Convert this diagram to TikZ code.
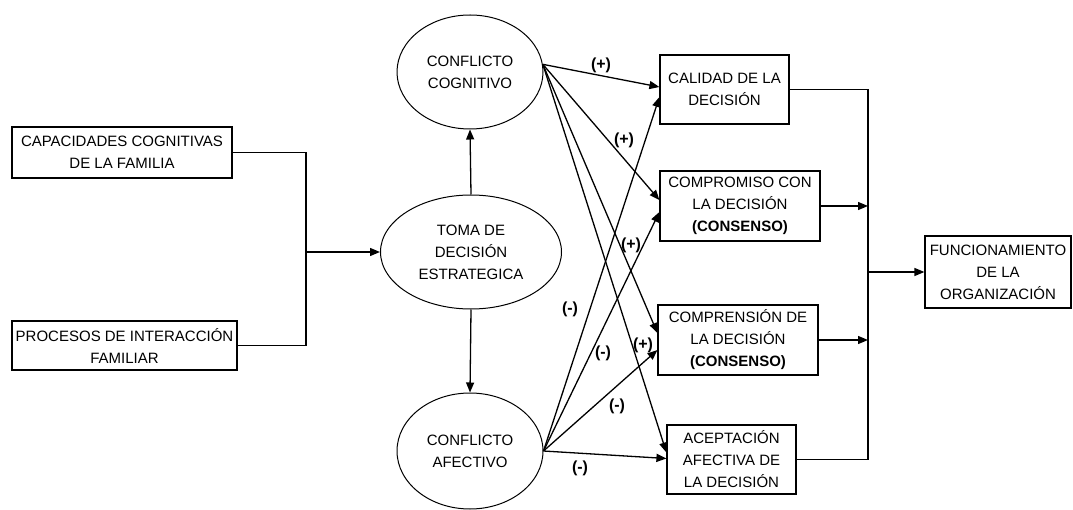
\documentclass[tikz,border=0pt]{standalone}
\usepackage{fontspec}
\setmainfont{Liberation Sans}
\usetikzlibrary{arrows.meta,shapes.geometric,calc}

\begin{document}
\begin{tikzpicture}[x=1pt,y=-1pt,
  txt/.style={font=\fontsize{15}{22}\selectfont, align=center, inner sep=0pt},
  box/.style={txt, draw, line width=1.2pt, rectangle},
  oval/.style={txt, draw, line width=1pt, ellipse},
  link/.style={line width=1.3pt},
  arr/.style={link, -{Triangle[length=10pt,width=8pt]}},
  sign/.style={font=\fontsize{16}{16}\selectfont\bfseries, inner sep=0pt}]

\useasboundingbox (0,0) rectangle (1073,510);

% antecedents
\node[box, minimum width=220pt, minimum height=51pt] (cap) at (122,152.5)
  {CAPACIDADES COGNITIVAS\\DE LA FAMILIA};
\node[box, minimum width=225pt, minimum height=49pt] (proc) at (124.5,345.5)
  {PROCESOS DE INTERACCIÓN\\FAMILIAR};

% decision process and conflicts
\node[oval, minimum width=181pt, minimum height=114pt] (toma) at (471,252)
  {TOMA DE\\DECISIÓN\\ESTRATEGICA};
\node[oval, minimum width=146pt, minimum height=114pt] (cog) at (470,72)
  {CONFLICTO\\COGNITIVO};
\node[oval, minimum width=146pt, minimum height=116pt] (afe) at (470,451)
  {CONFLICTO\\AFECTIVO};

% outcomes of the decision
\node[box, minimum width=129pt, minimum height=69pt] (calidad) at (724.5,89.5)
  {CALIDAD DE LA\\DECISIÓN};
\node[box, minimum width=160pt, minimum height=70pt] (compromiso) at (740,206)
  {COMPROMISO CON\\LA DECISIÓN\\\textbf{(CONSENSO)}};
\node[box, minimum width=160pt, minimum height=70pt] (comprension) at (738,340)
  {COMPRENSIÓN DE\\LA DECISIÓN\\\textbf{(CONSENSO)}};
\node[box, minimum width=129pt, minimum height=69pt] (aceptacion) at (731.5,459.5)
  {ACEPTACIÓN\\AFECTIVA DE\\LA DECISIÓN};
\node[box, minimum width=146pt, minimum height=72pt] (func) at (998,272)
  {FUNCIONAMIENTO\\DE LA\\ORGANIZACIÓN};

% junction points of the bracket connectors
\coordinate (jl) at (306,252);
\coordinate (jr) at (868,272);
\coordinate (cs) at (cog.6);
\coordinate (as) at (afe.east);

% left bracket into the decision
\draw[link] (cap.east) -| (jl) |- (proc.east);
\draw[arr] (jl) -- (toma.west);
\draw[arr] (toma.north) -- (cog.south);
\draw[arr] (toma.south) -- (afe.north);

% effects of cognitive conflict
\draw[arr] (cs) -- ($(calidad.west)+(0,-2.5)$);
\draw[arr] (cs) -- ($(compromiso.west)+(0,-6)$);
\draw[arr] (cs) -- ($(comprension.west)+(0,-7)$);
\draw[arr] (cs) -- ($(aceptacion.west)+(0,-7)$);

% effects of affective conflict
\draw[arr] (as) -- ($(calidad.west)+(0,7.5)$);
\draw[arr] (as) -- ($(compromiso.west)+(0,6)$);
\draw[arr] (as) -- ($(comprension.west)+(0,10)$);
\draw[arr] (as) -- ($(aceptacion.west)+(0,-1)$);

% signs of the effects
\node[sign] (p1) at (601,65) {(+)};
\node[sign] (p2) at (624,140) {(+)};
\node[sign] (p3) at (631,245) {(+)};
\node[sign] (p4) at (643,345) {(+)};
\node[sign] (m1) at (570,309) {(-)};
\node[sign] (m2) at (603,353) {(-)};
\node[sign] (m3) at (617,406) {(-)};
\node[sign] (m4) at (580,468) {(-)};

% right bracket into organisational functioning
\draw[link] (calidad.east) -| (jr) |- (aceptacion.east);
\draw[arr] (compromiso.east) -- (compromiso.east -| jr);
\draw[arr] (comprension.east) -- (comprension.east -| jr);
\draw[arr] (jr) -- (func.west);

\end{tikzpicture}
\end{document}
